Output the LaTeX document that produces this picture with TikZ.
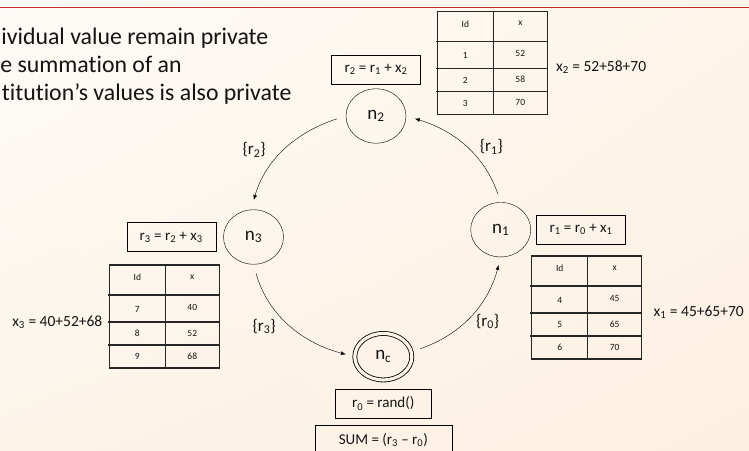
\documentclass[tikz,border=0pt]{standalone}
\usepackage{fontspec}
\setmainfont{Carlito}[Ligatures=NoCommon]
\usepackage{tikz}
\usetikzlibrary{
  arrows.meta,
  calc,
  positioning,
  shapes.geometric,
  shadings
}

\definecolor{bgtl}{RGB}{253,251,247}
\definecolor{bgtr}{RGB}{253,245,234}
\definecolor{bgbl}{RGB}{252,244,233}
\definecolor{bgbr}{RGB}{253,240,226}
\definecolor{bgmid}{RGB}{253,244,232}
\definecolor{slidered}{RGB}{200,45,45}
\definecolor{ink}{RGB}{20,20,20}

% table of ids and values, top left corner at #2
\newcommand{\valtable}[8]{%
  \coordinate (#1) at (#2);
  \draw[tablerule] (#1) rectangle ++(110,-103);
  \draw[tablerule] ($(#1)+(56,0)$) -- ++(0,-103);
  \foreach \dy in {30,57,80}
    \draw[tablerule] ($(#1)+(-1.5,-\dy)$) -- ++(111.5,0);
  \node[cell] (#1-hid) at ($(#1)+(28,-12.5)$) {Id};
  \node[cell] (#1-hx)  at ($(#1)+(83,-12)$)   {x};
  \node[cell] (#1-id1) at ($(#1)+(28,-44)$)   {#3};
  \node[cell] (#1-x1)  at ($(#1)+(83,-42)$)   {#4};
  \node[cell] (#1-id2) at ($(#1)+(28,-68.5)$) {#5};
  \node[cell] (#1-x2)  at ($(#1)+(83,-68)$)   {#6};
  \node[cell] (#1-id3) at ($(#1)+(28,-91.5)$) {#7};
  \node[cell] (#1-x3)  at ($(#1)+(83,-91)$)   {#8};
}

\begin{document}
\begin{tikzpicture}[x=1pt, y=1pt]

\tikzset{
  ringnode/.style={
    draw,
    ellipse,
    minimum width=60pt,
    minimum height=54.5pt,
    inner sep=0pt,
    font=\fontsize{19}{21}\selectfont
  },
  collector/.style={
    ringnode,
    double=bgmid,
    double distance=3.2pt,
    minimum width=57pt,
    minimum height=46.5pt
  },
  eqbox/.style={
    draw,
    rectangle,
    minimum width=89pt,
    minimum height=29pt,
    inner sep=0pt,
    font=\fontsize{15}{17}\selectfont
  },
  cell/.style={
    inner sep=0pt,
    font=\fontsize{9.5}{11}\selectfont
  },
  tablerule/.style={
    line width=1.1pt,
    draw=black!85
  },
  sumlabel/.style={
    inner sep=0pt,
    font=\fontsize{15.5}{18}\selectfont
  },
  passlabel/.style={
    inner sep=1pt,
    font=\fontsize{17}{20}\selectfont
  },
  notetext/.style={
    anchor=base west,
    inner sep=0pt,
    font=\fontsize{23.8}{28}\selectfont
  },
  >={Latex[length=6pt, width=4.5pt]},
  line width=0.8pt,
  text=ink
}

\useasboundingbox (0,0) rectangle (749,450);
\clip (0,0) rectangle (749,450);

% BACKGROUND -----------------------------------------------------

\shade[upper left=bgtl, upper right=bgtr, lower left=bgbl, lower right=bgbr]
  (0,0) rectangle (749,450);
\draw[slidered, line width=1.8pt] (0,442.5) -- (749,442.5);

% Notes
\node[notetext] (note1) at (1,405)   {ividual value remain private};
\node[notetext] (note2) at (0,377)   {e summation of an};
\node[notetext] (note3) at (1.5,349) {titution’s values is also private};

% NODES ----------------------------------------------------------

% Ring of participants + collector
\node[ringnode]  (n2) at (376,334)    {n\textsubscript{2}};
\node[ringnode]  (n3) at (253.5,213)  {n\textsubscript{3}};
\node[ringnode]  (n1) at (500.7,220.3) {n\textsubscript{1}};
\node[collector] (nc) at (383.3,93.3) {n\textsubscript{c}};

% Update rules
\node[eqbox, above=4pt of n2] (eq2)
  {r\textsubscript{2} = r\textsubscript{1} + x\textsubscript{2}};
\node[eqbox, left=7pt of n3] (eq3)
  {r\textsubscript{3} = r\textsubscript{2} + x\textsubscript{3}};
\node[eqbox, right=5pt of n1] (eq1)
  {r\textsubscript{1} = r\textsubscript{0} + x\textsubscript{1}};
\node[eqbox, minimum width=96pt, below=8.3pt of nc] (eq0)
  {r\textsubscript{0} = rand()};
\node[eqbox, minimum width=137pt, minimum height=30pt, below=6.3pt of eq0] (total)
  {SUM = (r\textsubscript{3} – r\textsubscript{0})};

% Value tables
\valtable{tab2}{437.3,438.3}{1}{52}{2}{58}{3}{70}
\valtable{tab3}{109.3,185}{7}{40}{8}{52}{9}{68}
\valtable{tab1}{531.7,194}{4}{45}{5}{65}{6}{70}

\node[sumlabel, anchor=base west] (sum2) at ($(tab2)+(118.4,-60)$)
  {x\textsubscript{2} = 52+58+70};
\node[sumlabel, anchor=base east] (sum3) at ($(tab3)+(-6.6,-61)$)
  {x\textsubscript{3} = 40+52+68};
\node[sumlabel, anchor=base west] (sum1) at ($(tab1)+(121.6,-60.7)$)
  {x\textsubscript{1} = 45+65+70};

% DRAWS ---------------------------------------------------------

% Passing the running sums round the ring
\draw[->, shorten <=9pt, shorten >=9pt]
  (n2.west) to[out=198, in=74]
  node[passlabel, pos=0.5, left=18pt] {\{r\textsubscript{2}\}}
  (n3.95);
\draw[->, shorten <=9pt, shorten >=8pt]
  (n3.south) to[out=286, in=165]
  node[passlabel, pos=0.52, left=15pt] {\{r\textsubscript{3}\}}
  (nc.west);
\draw[->, shorten <=9pt, shorten >=7pt]
  (nc.10) to[out=19, in=255]
  node[passlabel, pos=0.45, right=10pt] {\{r\textsubscript{0}\}}
  (n1.south);
\draw[->, shorten <=8pt, shorten >=8pt]
  (n1.north) to[out=109, in=-17]
  node[passlabel, pos=0.5, right=13pt] {\{r\textsubscript{1}\}}
  (n2.east);

\end{tikzpicture}
\end{document}
